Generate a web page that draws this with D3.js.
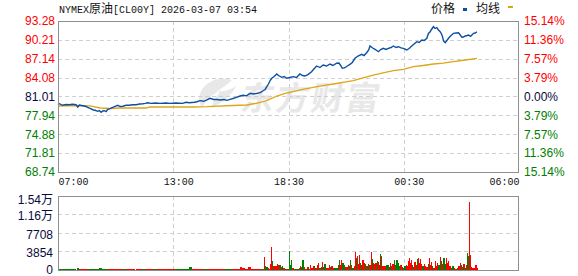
<!DOCTYPE html>
<html><head><meta charset="utf-8">
<script src="https://cdnjs.cloudflare.com/ajax/libs/d3/7.8.5/d3.min.js"></script>
<style>
html,body{margin:0;padding:0;background:#fff;}
svg{display:block;}
</style></head>
<body><div id="chart"></div>
<script>
// ---- data (minutes since 07:00) ----
const xTickMinutes = [0, 360, 690, 1050, 1380];
const xTickLabels = ["07:00", "13:00", "18:30", "00:30", "06:00"];
const priceTicks = [93.28, 90.21, 87.14, 84.08, 81.01, 77.94, 74.88, 71.81, 68.74];
const pctLabels = ["15.14%", "11.36%", "7.57%", "3.79%", "0.00%", "3.79%", "7.57%", "11.36%", "15.14%"];
const volTickValues = [0, 3854, 7708, 11562, 15416];
const volTickLabels = ["0", "3854", "7708", "1.16万", "1.54万"];

const priceTimes = [0,4,14,24,33,43,54,59,64,74,82,89,96,104,111,119,124,129,134,139,144,149,156,164,171,179,186,194,204,214,223,234,244,254,261,269,278,293,305,323,335,353,373,383,393,408,416,425,436,446,455,466,476,485,497,506,515,524,534,545,554,564,575,585,594,605,614,620,625,630,635,640,647,655,660,670,677,685,694,704,714,724,732,739,748,759,766,774,784,794,804,814,823,834,841,847,851,859,866,874,881,889,898,909,916,924,930,934,942,949,959,966,974,982,989,997,1004,1012,1019,1027,1034,1044,1051,1059,1066,1074,1081,1089,1096,1104,1109,1114,1118,1124,1129,1134,1139,1144,1148,1151,1154,1159,1163,1169,1175,1184,1192,1199,1204,1209,1214,1219,1225,1229,1235,1244,1249,1254];
const priceValues = [79.71,79.84,79.58,79.71,79.68,79.74,79.68,79.30,79.63,79.51,79.42,79.25,79.09,78.86,78.77,78.60,78.73,78.44,78.65,78.70,78.57,78.93,79.03,79.25,79.42,79.58,79.38,79.42,79.58,79.58,79.66,79.68,79.79,79.84,79.90,80.00,79.90,79.95,79.90,79.95,79.90,79.95,79.90,80.07,80.00,80.07,80.16,80.33,80.23,80.47,80.72,80.52,80.52,80.44,80.52,80.39,80.55,80.68,80.88,81.09,81.20,81.12,81.53,81.42,81.50,81.63,81.94,82.15,82.60,83.04,83.61,83.97,84.26,84.67,84.42,84.13,84.26,83.97,84.10,84.23,84.10,84.67,84.42,84.34,84.58,85.04,85.48,85.97,85.72,86.13,85.97,86.29,86.05,86.41,86.45,85.97,85.59,85.69,85.97,86.24,86.54,87.22,87.59,87.87,87.67,88.13,88.57,89.22,88.89,88.68,88.29,88.65,88.84,88.65,88.84,88.97,89.22,88.97,89.10,88.92,88.84,88.57,88.81,89.22,89.54,89.92,89.79,90.19,90.11,90.47,91.25,91.54,91.90,92.35,92.06,92.19,91.82,91.54,91.17,90.73,90.03,89.75,90.03,90.47,90.84,91.28,91.33,91.38,91.00,90.63,90.68,90.84,90.92,91.00,90.79,91.28,91.33,91.54];

const avgTimes = [0,51,96,126,156,186,263,275,404,446,524,565,590,605,625,638,655,680,704,733,764,793,824,853,884,913,944,973,1004,1034,1064,1093,1124,1153,1184,1219,1254];
const avgValues = [79.47,79.55,79.50,79.14,79.06,79.14,79.14,79.30,79.30,79.35,79.55,79.63,79.87,80.04,80.33,80.68,81.09,81.50,81.79,82.15,82.51,82.76,83.04,83.32,83.58,84.02,84.50,84.86,85.20,85.43,85.85,86.05,86.29,86.45,86.67,86.94,87.22];

const volTimes = [0,9,18,27,36,45,57,63,72,81,90,99,108,117,124,133,142,151,160,169,178,187,196,205,214,223,232,241,250,259,268,277,286,295,304,313,322,331,340,349,358,367,376,385,393,402,411,420,429,438,447,456,465,474,483,492,501,510,519,528,537,545,551,560,569,578,587,596,605,
608,611,614,617,620,623,629,632,635,639,642,645,650,655,659,663,667,671,675,680,685,690,693,696,700,705,710,715,720,723,727,731,735,740,745,750,753,757,762,766,770,775,778,782,786,790,793,797,802,807,810,815,818,823,827,833,837,841,845,848,851,855,859,863,867,871,874,878,881,885,888,891,894,898,901,905,908,911,915,918,922,925,929,932,936,939,943,946,950,954,957,960,963,966,970,974,978,982,986,990,994,997,1001,1005,1009,1013,1017,1021,1025,1029,1033,1037,1041,1045,1048,1051,1054,1057,1060,1063,1067,1071,1075,1078,1081,1084,1087,1091,1095,1099,1103,1107,1110,1113,1117,1120,1124,1128,1131,1135,1139,1143,1146,1149,1152,1155,1158,1162,1165,1168,1171,1175,1180,1185,1189,1193,1198,1202,1205,1209,1213,1217,1221,1224,1227,1230,1233,1236,1240,1245,1249,1253];
const volValues = [180,150,160,140,170,150,360,150,140,160,150,140,170,150,360,150,140,150,160,140,150,160,140,150,160,140,150,170,150,140,160,140,150,160,140,150,160,140,150,160,150,170,150,160,560,150,140,160,150,140,160,150,140,160,150,140,160,150,170,150,160,560,360,150,420,150,160,140,150,
141,141,200,2600,703,492,211,141,1125,4710,1758,703,703,1125,914,914,562,773,211,141,141,3867,844,1968,352,141,141,141,211,703,492,1968,492,141,492,141,914,281,703,703,281,844,1336,352,492,1476,562,1055,281,211,914,492,703,211,211,352,844,1968,844,1898,1406,914,562,422,844,703,2039,914,352,703,3656,2461,2742,1055,3093,1406,914,1968,1406,1195,773,703,1195,844,3656,2250,1336,1195,1406,1758,1547,984,3164,2812,703,703,703,914,914,562,1406,703,1055,1898,844,1968,1406,703,844,422,281,703,914,703,1758,2461,1406,1898,984,562,1547,844,2109,2390,1406,2250,1055,703,1195,703,422,1125,2390,984,1547,703,281,1687,703,1406,984,2601,1758,1055,2390,2390,1125,2390,1406,1758,703,281,703,211,141,352,703,1265,844,562,1055,211,844,3515,2812,14200,3093,492,281,211,844,281];
const volUp = [0,0,0,0,0,0,0,1,1,1,0,0,0,0,0,0,0,1,1,1,1,1,0,1,1,1,1,1,0,1,1,1,0,1,1,1,1,1,1,0,0,0,0,0,0,1,1,1,1,0,1,1,1,1,1,1,0,0,1,1,1,1,1,1,1,1,1,1,1,
0,0,1,1,0,0,1,1,1,1,0,1,1,1,1,0,1,0,1,0,1,0,0,0,1,0,0,1,0,1,0,0,1,0,1,0,1,1,1,0,1,1,1,0,1,1,0,0,1,1,1,0,1,1,0,0,1,0,1,1,0,0,1,1,1,0,0,1,0,1,1,0,1,1,1,0,1,1,1,0,1,0,0,1,1,0,1,1,1,0,1,1,0,1,1,1,1,0,0,1,1,0,1,0,1,0,0,0,1,0,1,0,1,1,1,1,1,1,0,1,1,1,0,1,1,1,1,0,1,1,1,0,1,1,1,0,1,1,1,1,0,1,0,1,0,0,0,1,1,1,1,0,0,1,1,0,1,1,0,0,1,0,1,0,0,1,1,1,1,1,1,1,1];

// ---- layout ----
const W = 578, H = 276;
const L = 58, R = 519, T = 21, B = 172;
const VT = 196, VB = 269.5;

const svg = d3.select("#chart").append("svg").attr("width", W).attr("height", H)
  .style("font-family", "'Liberation Sans', Arial, sans-serif");
svg.append("rect").attr("width", W).attr("height", H).attr("fill", "#fff");

const x = d3.scaleLinear().domain([0, 1380]).range([L, R]);
const y = d3.scaleLinear().domain([68.74, 93.28]).range([B, T]);
const yv = d3.scaleLinear().domain([0, 15416]).range([VB, VT]);

// watermark
const wm = svg.append("g").attr("fill", "#e8e8e8");
wm.append("path").attr("d", "M214,80 C200,86 196,98 202,108 C206,100 212,94 222,90 C216,96 212,102 212,108 C222,102 232,96 236,86 C230,90 222,92 216,92 C222,88 228,84 232,80 C226,78 220,78 214,80 Z");
wm.append("text").attr("x", 240).attr("y", 110)
  .attr("transform", "skewX(-10) translate(19,0)")
  .style("font-family", "'Noto Sans CJK SC', sans-serif").style("font-weight", "bold")
  .style("font-size", "33px").style("letter-spacing", "2px").text("东方财富");

// grid
const gridColor = "#cfcfcf";
const grid = svg.append("g").attr("stroke", gridColor).attr("stroke-dasharray", "4,3").attr("shape-rendering", "crispEdges");
const quarters = [1, 2, 3].map(i => 1380 * i / 4);
quarters.forEach(m => {
  const gx = Math.round(x(m)) + 0.5;
  grid.append("line").attr("x1", gx).attr("x2", gx).attr("y1", T).attr("y2", B);
  grid.append("line").attr("x1", gx).attr("x2", gx).attr("y1", VT).attr("y2", VB);
});
priceTicks.slice(1, -1).forEach(p => {
  const gy = Math.round(y(p)) + 0.5;
  grid.append("line").attr("x1", L).attr("x2", R).attr("y1", gy).attr("y2", gy);
});
volTickValues.slice(1, -1).forEach(v => {
  const gy = Math.round(yv(v)) + 0.5;
  grid.append("line").attr("x1", L).attr("x2", R).attr("y1", gy).attr("y2", gy);
});

// volume bars
const vols = volTimes.map((t, i) => ({t, v: volValues[i], up: volUp[i]}));
svg.append("g").attr("shape-rendering", "crispEdges").selectAll("rect").data(vols).enter().append("rect")
  .attr("x", (d) => Math.round(x(d.t)))
  .attr("width", (d, i) => {
    const nx = i < vols.length - 1 ? x(vols[i + 1].t) : x(d.t) + 1;
    return Math.max(1, Math.min(3, Math.round(nx) - Math.round(x(d.t))));
  })
  .attr("y", d => yv(d.v))
  .attr("height", d => VB - yv(d.v))
  .attr("fill", d => d.up ? "#ff0000" : "#008000");

// price lines
const avgData = avgTimes.map((t, i) => [t, avgValues[i]]);
const priceData = priceTimes.map((t, i) => [t, priceValues[i]]);
const line = d3.line().x(d => x(d[0])).y(d => y(d[1]));
svg.append("path").datum(avgData).attr("d", line).attr("fill", "none").attr("stroke", "#e0a419").attr("stroke-width", 1.3);
svg.append("path").datum(priceData).attr("d", line).attr("fill", "none").attr("stroke", "#0c4fa3").attr("stroke-width", 1.4).attr("stroke-linejoin", "miter");

// frames
svg.append("rect").attr("x", L + 0.5).attr("y", T + 0.5).attr("width", R - L - 1).attr("height", B - T)
  .attr("fill", "none").attr("stroke", "#8f8f8f").attr("shape-rendering", "crispEdges");
svg.append("rect").attr("x", L + 0.5).attr("y", VT + 0.5).attr("width", R - L - 1).attr("height", VB - VT)
  .attr("fill", "none").attr("stroke", "#8f8f8f").attr("shape-rendering", "crispEdges");

function colorFor(i) { return i < 4 ? "#ff0000" : (i === 4 ? "#0a0a3c" : "#008000"); }

// left price axis
const axL = svg.append("g").attr("transform", `translate(${L},0)`)
  .call(d3.axisLeft(y).tickValues(priceTicks).tickSize(0).tickPadding(3).tickFormat(d => d.toFixed(2)));
axL.select(".domain").remove();
axL.selectAll("text").style("font-size", "12px").style("font-family", "'Liberation Sans', Arial, sans-serif")
  .attr("fill", (d, i) => colorFor(i));

// right pct axis
const axR = svg.append("g").attr("transform", `translate(${R},0)`)
  .call(d3.axisRight(y).tickValues(priceTicks).tickSize(0).tickPadding(5).tickFormat((d, i) => pctLabels[i]));
axR.select(".domain").remove();
axR.selectAll("text").style("font-size", "12px").style("font-family", "'Liberation Sans', Arial, sans-serif")
  .attr("fill", (d, i) => colorFor(i));

// bottom time axis
const axB = svg.append("g").attr("transform", `translate(0,${B})`)
  .call(d3.axisBottom(x).tickValues(xTickMinutes).tickSize(0).tickPadding(6).tickFormat((d, i) => xTickLabels[i]));
axB.select(".domain").remove();
axB.selectAll("text").style("font-size", "10px").style("font-family", "'Liberation Mono', 'DejaVu Sans Mono', monospace")
  .attr("fill", "#111")
  .attr("text-anchor", (d, i) => i === 0 ? "start" : (i === xTickMinutes.length - 1 ? "end" : "middle"));

// volume axis
const axV = svg.append("g").attr("transform", `translate(${L},0)`)
  .call(d3.axisLeft(yv).tickValues(volTickValues).tickSize(0).tickPadding(5).tickFormat((d, i) => volTickLabels[i]));
axV.select(".domain").remove();
axV.selectAll("text").style("font-size", "12px").style("font-family", "'Liberation Sans', 'Noto Sans CJK SC', sans-serif")
  .attr("fill", "#0a0a3c")
  .attr("dy", (d, i) => i === 0 ? "0.3em" : (i === volTickValues.length - 1 ? "0.62em" : "0.45em"));

// title
const title = svg.append("text").attr("x", 59).attr("y", 13).attr("fill", "#111")
  .style("font-family", "'Liberation Mono', 'DejaVu Sans Mono', monospace").style("font-size", "10px");
title.append("tspan").text("NYMEX");
title.append("tspan").style("font-family", "'Noto Sans CJK SC', sans-serif").style("font-size", "12px").text("原油");
title.append("tspan").text("[CL00Y] 2026-03-07 03:54");

// legend
const lg = svg.append("g").style("font-family", "'Noto Sans CJK SC', sans-serif").style("font-size", "12px").attr("fill", "#111");
lg.append("text").attr("x", 431).attr("y", 13).text("价格");
lg.append("rect").attr("x", 463).attr("y", 8).attr("width", 4).attr("height", 3).attr("fill", "#0c4fa3");
lg.append("text").attr("x", 476).attr("y", 13).text("均线");
lg.append("rect").attr("x", 508).attr("y", 6).attr("width", 5).attr("height", 2).attr("fill", "#e0a419");
</script>
</body></html>
